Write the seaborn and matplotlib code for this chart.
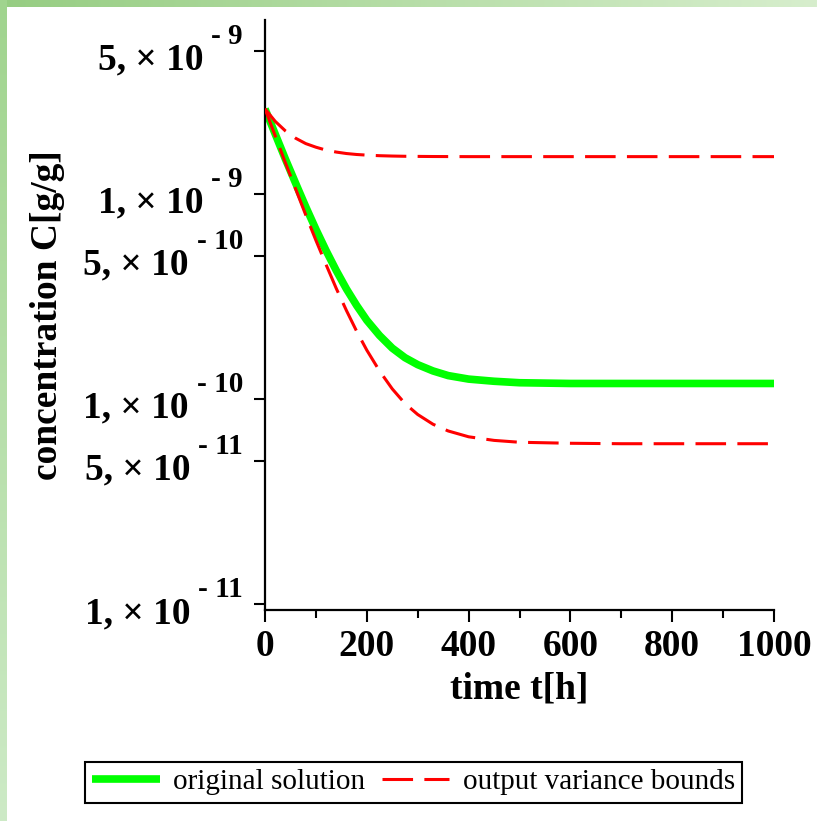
import numpy as np
import pandas as pd
import matplotlib
matplotlib.use("Agg")
import matplotlib.pyplot as plt
import seaborn as sns
from matplotlib.lines import Line2D
from matplotlib.ticker import FixedLocator, NullLocator, MultipleLocator

# ---------------- data ----------------
time_h = [0, 20, 40, 60, 80, 100, 120, 140, 160, 180, 200, 225, 250, 275,
          300, 330, 360, 400, 450, 500, 600, 700, 800, 900, 1000]
original_solution = [2.60e-9, 1.96e-9, 1.48e-9, 1.13e-9, 8.66e-10, 6.72e-10,
                     5.29e-10, 4.23e-10, 3.44e-10, 2.86e-10, 2.42e-10,
                     2.04e-10, 1.77e-10, 1.59e-10, 1.47e-10, 1.37e-10,
                     1.30e-10, 1.25e-10, 1.22e-10, 1.20e-10, 1.19e-10,
                     1.19e-10, 1.19e-10, 1.19e-10, 1.19e-10]
upper_bound = [2.60e-9, 2.26e-9, 2.03e-9, 1.87e-9, 1.76e-9, 1.69e-9,
               1.635e-9, 1.60e-9, 1.574e-9, 1.557e-9, 1.546e-9, 1.536e-9,
               1.53e-9, 1.526e-9, 1.524e-9, 1.522e-9, 1.521e-9, 1.52e-9,
               1.52e-9, 1.52e-9, 1.52e-9, 1.52e-9, 1.52e-9, 1.52e-9, 1.52e-9]
lower_bound = [2.60e-9, 1.92e-9, 1.42e-9, 1.06e-9, 7.9e-10, 5.94e-10,
               4.52e-10, 3.46e-10, 2.70e-10, 2.14e-10, 1.73e-10, 1.37e-10,
               1.12e-10, 9.5e-11, 8.4e-11, 7.53e-11, 6.98e-11, 6.54e-11,
               6.28e-11, 6.15e-11, 6.08e-11, 6.05e-11, 6.05e-11, 6.05e-11,
               6.05e-11]

ytick_values = [5e-9, 1e-9, 5e-10, 1e-10, 5e-11, 1e-11]
ytick_mantissas = ["5, × 10", "1, × 10", "5, × 10", "1, × 10", "5, × 10", "1, × 10"]
ytick_exponents = ["- 9", "- 9", "- 10", "- 10", "- 11", "- 11"]
xtick_values = [0, 200, 400, 600, 800, 1000]
xtick_labels = ["0", "200", "400", "600", "800", "1000"]

legend_labels = ["original solution", "output variance bounds"]
x_label = "time t[h]"
y_label = "concentration C[g/g]"

# ---------------- style ----------------
sns.set_style("white")
plt.rcParams["font.family"] = ["Liberation Serif", "DejaVu Serif"]
plt.rcParams["text.color"] = "black"
plt.rcParams["axes.labelcolor"] = "black"
plt.rcParams["xtick.color"] = "black"
plt.rcParams["ytick.color"] = "black"

W, H = 817, 821
fig = plt.figure(figsize=(W / 100, H / 100), dpi=100)
fig.patch.set_facecolor("white")

# decorative green frame (left and top strips)
bg = fig.add_axes([0, 0, 1, 1], zorder=-10)
img = np.ones((H, W, 3))
strip = 7
top_l = np.array([150, 205, 130]) / 255
top_r = np.array([215, 238, 205]) / 255
left_t = np.array([160, 212, 142]) / 255
left_b = np.array([205, 234, 198]) / 255
fx = np.linspace(0, 1, W)[:, None]
img[:strip, :, :] = (top_l * (1 - fx) + top_r * fx)[None, :, :]
fy = np.linspace(0, 1, H)[:, None]
img[:, :strip, :] = (left_t * (1 - fy) + left_b * fy)[:, None, :]
bg.imshow(img, extent=(0, W, H, 0), aspect="auto", interpolation="nearest")
bg.set_xlim(0, W)
bg.set_ylim(H, 0)
bg.axis("off")

# main axes (pixel geometry of the reference)
x0, x1, y0, y1 = 265, 774, 20, 610
ax = fig.add_axes([x0 / W, 1 - y1 / H, (x1 - x0) / W, (y1 - y0) / H])
ax.set_facecolor("none")
ax.set_yscale("log")

green = "#00ff00"
red = "#ff0000"
dash = (0, (10, 3.7))

sns.lineplot(x=time_h, y=original_solution, ax=ax, color=green, linewidth=5.5,
             solid_capstyle="butt", solid_joinstyle="round", legend=False,
             zorder=2)
sns.lineplot(x=time_h, y=upper_bound, ax=ax, color=red, linewidth=2.2,
             linestyle=dash, legend=False, zorder=3)
sns.lineplot(x=time_h, y=lower_bound, ax=ax, color=red, linewidth=2.2,
             linestyle=dash, legend=False, zorder=3)

ax.set_xlim(0, 1000)
ax.set_ylim(9.35e-12, 7.05e-9)

for s in ["top", "right"]:
    ax.spines[s].set_visible(False)
for s in ["left", "bottom"]:
    ax.spines[s].set_color("black")
    ax.spines[s].set_linewidth(1.6)

ax.xaxis.set_major_locator(FixedLocator(xtick_values))
ax.set_xticklabels(xtick_labels, fontsize=27, fontweight="bold", color="black")
ax.xaxis.set_minor_locator(MultipleLocator(100))
ax.tick_params(axis="x", which="major", direction="out", length=8.5, width=1.5,
               color="black", pad=5, bottom=True)
ax.tick_params(axis="x", which="minor", direction="out", length=5.5, width=1.5,
               color="black", bottom=True)

ax.yaxis.set_major_locator(FixedLocator(ytick_values))
ax.yaxis.set_minor_locator(NullLocator())
ax.tick_params(axis="y", which="major", direction="out", length=8, width=1.5,
               color="black", left=True, labelleft=False)

# y tick labels: mantissa + raised exponent
for val, mant, expo in zip(ytick_values, ytick_mantissas, ytick_exponents):
    sup = ax.annotate(expo, xy=(0, val), xycoords=("axes fraction", "data"),
                      xytext=(-22, 7), textcoords="offset pixels",
                      ha="right", va="baseline", fontsize=21,
                      fontweight="bold", color="black", annotation_clip=False)
    ax.annotate(mant, xy=(0, 0), xycoords=sup, xytext=(-8, -20),
                textcoords="offset pixels", ha="right", va="baseline",
                fontsize=27, fontweight="bold", color="black",
                annotation_clip=False)

ax.set_xlabel(x_label, fontsize=27, fontweight="bold", color="black")
ax.xaxis.label.set_va("baseline")
ax.xaxis.set_label_coords(0.5, (y1 - 698) / (y1 - y0))

ax.set_ylabel(y_label, fontsize=27, fontweight="bold", color="black")
ax.yaxis.label.set_va("baseline")
ax.yaxis.set_label_coords((57 - x0) / (x1 - x0), 0.5)

handles = [Line2D([], [], color=green, linewidth=5.5, solid_capstyle="butt"),
           Line2D([], [], color=red, linewidth=2.2, linestyle=dash)]
leg = fig.legend(handles, legend_labels, ncol=2, loc="center",
                 bbox_to_anchor=(413.5 / W, 1 - 782 / H),
                 bbox_transform=fig.transFigure,
                 prop={"family": ["Liberation Serif"], "size": 21},
                 handlelength=2.33, handletextpad=0.45, columnspacing=0.55,
                 borderpad=0.25, fancybox=False, framealpha=1,
                 edgecolor="black", labelcolor="black")
leg.get_frame().set_linewidth(1.5)

fig.savefig("out.png", dpi=100)
